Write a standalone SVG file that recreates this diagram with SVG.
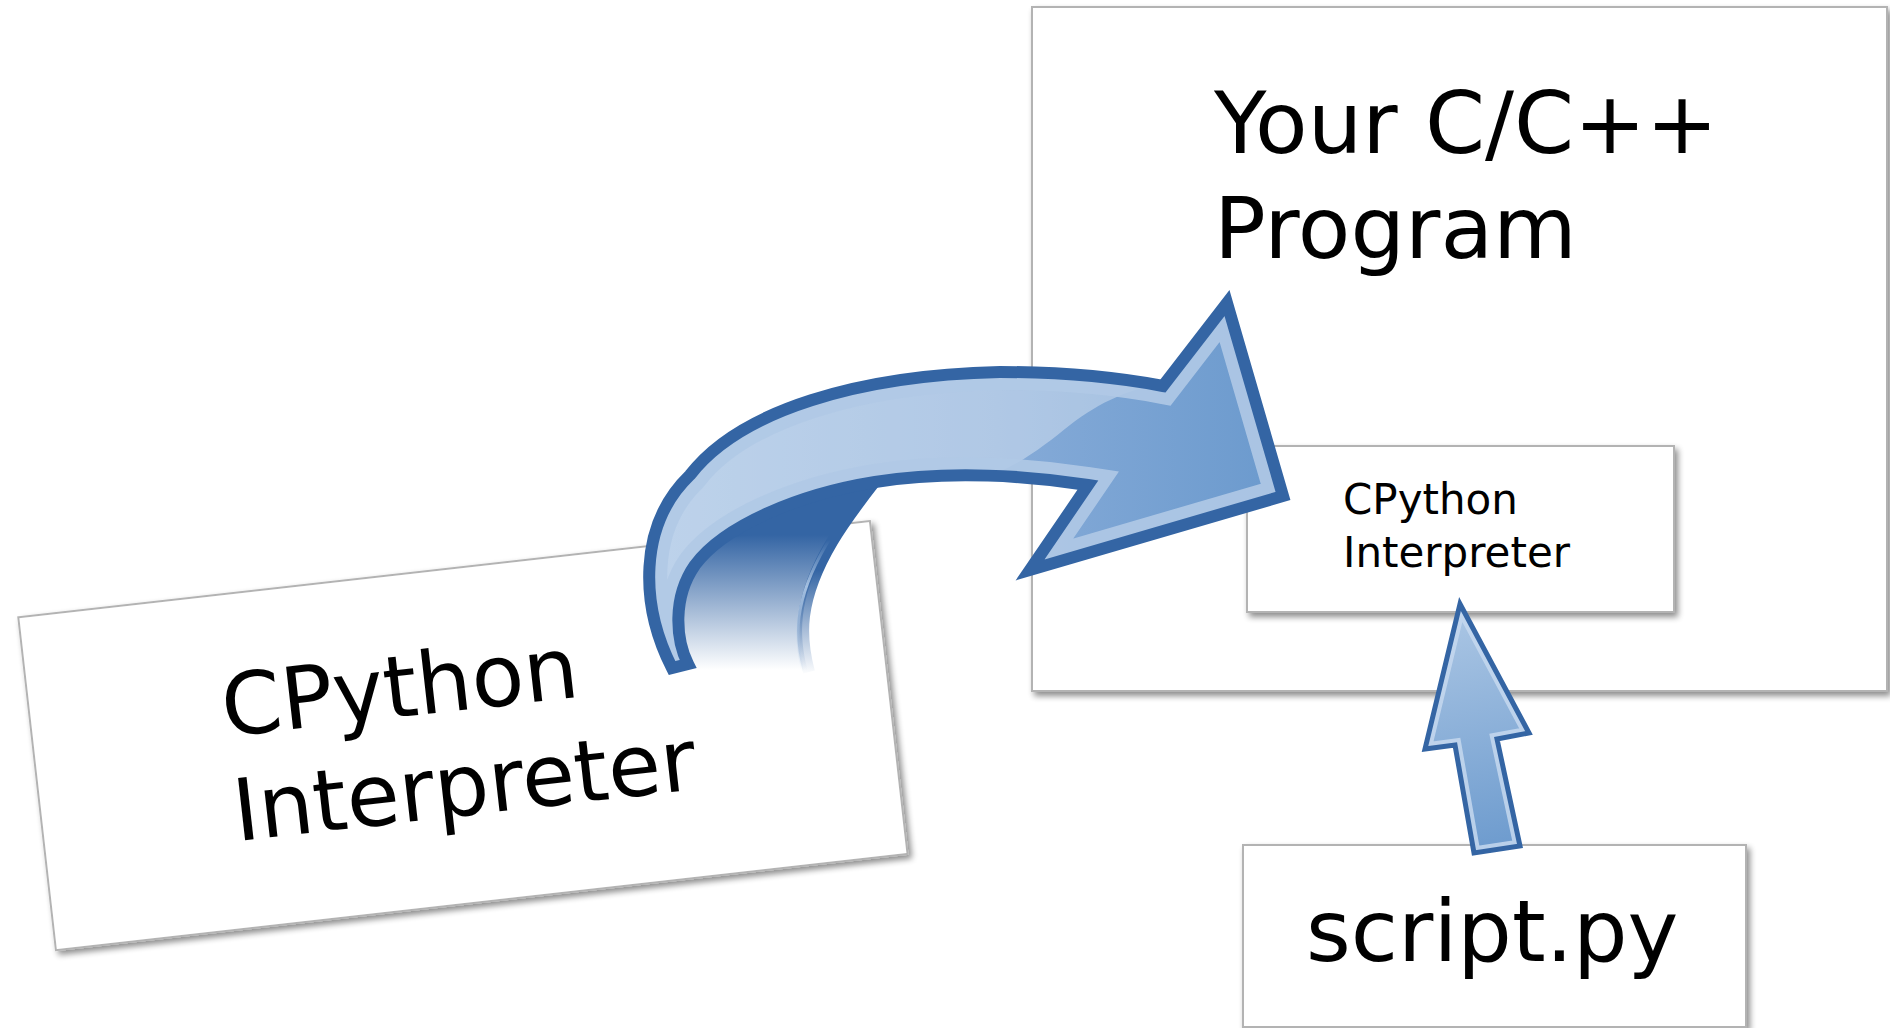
<svg xmlns="http://www.w3.org/2000/svg" width="1890" height="1028" viewBox="0 0 1890 1028">
<defs>
<style>
.box{fill:#fff;stroke:#b3b3b3;stroke-width:2;filter:url(#shadow)}
.t{font-family:"DejaVu Sans",sans-serif;fill:#000}
.big{font-size:86px}
.small{font-size:42px}
.outline{fill:none;stroke:#3465a4;stroke-linejoin:miter;stroke-miterlimit:6}
</style>
<filter id="shadow" x="-5%" y="-5%" width="115%" height="120%">
<feGaussianBlur in="SourceAlpha" stdDeviation="3"/>
<feOffset dx="3" dy="4"/>
<feComponentTransfer><feFuncA type="linear" slope="0.45"/></feComponentTransfer>
<feMerge><feMergeNode/><feMergeNode in="SourceGraphic"/></feMerge>
</filter>
<linearGradient id="ribbonFill" gradientUnits="userSpaceOnUse" x1="650" y1="0" x2="1260" y2="0">
<stop offset="0" stop-color="#9bbbe0"/><stop offset="0.57" stop-color="#86abd8"/><stop offset="1" stop-color="#6d9bce"/>
</linearGradient>
<linearGradient id="backFill" gradientUnits="userSpaceOnUse" x1="0" y1="535" x2="0" y2="670">
<stop offset="0" stop-color="#3465a4"/><stop offset="1" stop-color="#3465a4" stop-opacity="0"/>
</linearGradient>
<linearGradient id="backStroke" gradientUnits="userSpaceOnUse" x1="0" y1="570" x2="0" y2="675">
<stop offset="0" stop-color="#3465a4"/><stop offset="1" stop-color="#3465a4" stop-opacity="0"/>
</linearGradient>
<linearGradient id="backLight" gradientUnits="userSpaceOnUse" x1="0" y1="540" x2="0" y2="672">
<stop offset="0" stop-color="#b0c9e6" stop-opacity="0"/><stop offset="0.35" stop-color="#b0c9e6" stop-opacity="0.9"/><stop offset="1" stop-color="#b0c9e6" stop-opacity="0"/>
</linearGradient>
<linearGradient id="smallFill" gradientUnits="userSpaceOnUse" x1="1455" y1="610" x2="1500" y2="850">
<stop offset="0" stop-color="#abc6e4"/><stop offset="1" stop-color="#6d9bce"/>
</linearGradient>
<path id="ribbon" d="M 672,668 C 640,605 638,525 690,475 C 740,410 860,375 1000,372 C 1060,372 1115,377 1163,386 L 1227,303 L 1283,496 L 1030,570 L 1088,485 C 1030,476 950,470 875,482 C 800,494 725,525 695,565 C 672,598 676,640 688,664 Z"/>
<clipPath id="ribbonClip"><use href="#ribbon"/></clipPath>
<path id="small" d="M 1460,604 L 1529,733 L 1497,739 L 1520,846 L 1474,853 L 1455,745 L 1425,749 Z"/>
<clipPath id="smallClip"><use href="#small"/></clipPath>
</defs>
<rect width="1890" height="1028" fill="#fff"/>

<g id="node-cpython-card" transform="translate(18.3,617.3) rotate(-6.45)">
<rect class="box" x="0" y="0" width="857" height="335"/>
<text class="t big" x="192" y="142">CPython</text>
<text class="t big" x="192" y="247">Interpreter</text>
</g>

<g id="node-program">
<rect class="box" x="1032" y="7" width="855" height="684"/>
<text class="t big" x="1214" y="153">Your C/C++</text>
<text class="t big" x="1214" y="258">Program</text>
</g>

<g id="node-embedded-interpreter">
<rect class="box" x="1247" y="446" width="427" height="166"/>
<text class="t small" x="1343" y="514">CPython</text>
<text class="t small" x="1343" y="567">Interpreter</text>
</g>

<g id="node-script">
<rect class="box" x="1243" y="845" width="503" height="182"/>
<text class="t big" x="1306" y="961">script.py</text>
</g>

<g id="connectors">
<g id="embed-arrow">
<path d="M 875,478 C 850,510 810,560 803,615 C 800,640 805,660 808,672 L 682,672 C 672,640 668,600 680,570 C 700,525 760,495 875,478 Z" fill="url(#backFill)"/>
<path d="M 876,480 C 851,512 811,562 804,616 C 801,641 806,661 809,672" fill="none" stroke="url(#backStroke)" stroke-width="12"/>
<path d="M 866,488 C 843,518 806,565 799,617 C 796,641 800,660 803,672" fill="none" stroke="url(#backLight)" stroke-width="3"/>
<use href="#ribbon" fill="url(#ribbonFill)"/>
<g clip-path="url(#ribbonClip)">
<path d="M 560,250 L 1200,250 L 1170,382 C 1130,388 1100,402 1070,425 C 1045,445 1020,465 985,478 L 985,700 L 560,700 Z" fill="#fff" fill-opacity="0.35"/>
<use href="#ribbon" fill="none" stroke="#b0c9e6" stroke-opacity="0.9" stroke-width="36" stroke-linejoin="miter" stroke-miterlimit="6"/>
</g>
<use href="#ribbon" class="outline" stroke-width="12"/>
</g>
<g id="load-arrow">
<use href="#small" fill="url(#smallFill)"/>
<g clip-path="url(#smallClip)">
<use href="#small" fill="none" stroke="#c6d8ee" stroke-opacity="0.85" stroke-width="13" stroke-linejoin="miter" stroke-miterlimit="6"/>
</g>
<use href="#small" class="outline" stroke-width="5"/>
</g>
</g>
</svg>
